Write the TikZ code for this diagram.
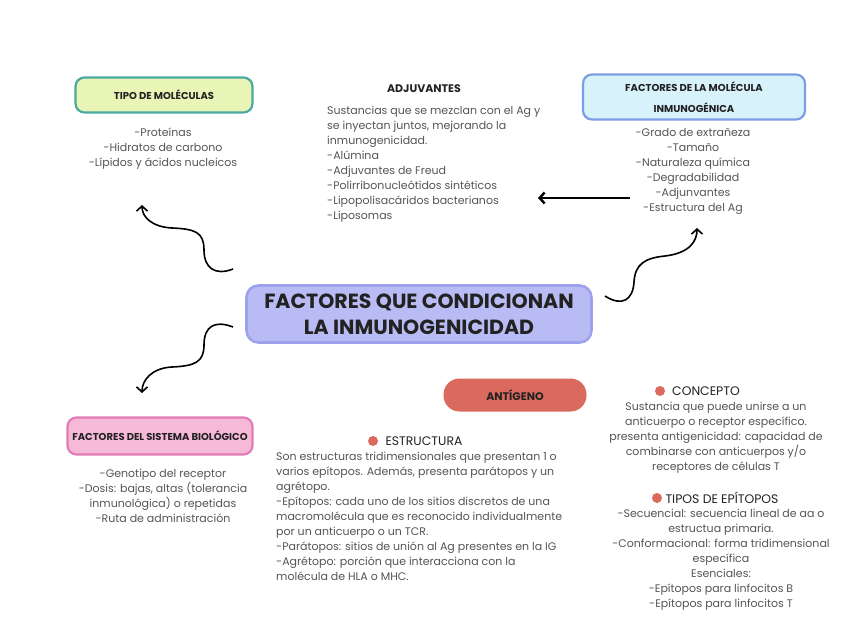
\documentclass[tikz,border=0pt]{standalone}
\usepackage{fontspec}
\setmainfont{Poppins}
\usetikzlibrary{arrows.meta}
\definecolor{gris}{HTML}{555555}
\definecolor{tinta}{HTML}{222222}
\definecolor{verde}{HTML}{E9F5B6}
\definecolor{verdeb}{HTML}{4BA9A2}
\definecolor{celeste}{HTML}{D8F2FC}
\definecolor{celesteb}{HTML}{7D9CE2}
\definecolor{lila}{HTML}{B9BCF4}
\definecolor{lilab}{HTML}{9EA2EC}
\definecolor{rosa}{HTML}{F7B9D8}
\definecolor{rosab}{HTML}{E27BB6}
\definecolor{salmon}{HTML}{DA6A5D}

\begin{document}
\begin{tikzpicture}[x=1pt,y=-1pt,
  caja/.style={draw, line width=2.2pt, rounded corners=9pt, align=center, text=tinta,
    font=\fontsize{10}{21}\selectfont\bfseries},
  lista/.style={text=gris, inner sep=0pt, font=\fontsize{11}{15}\selectfont},
  titulo/.style={text=tinta, inner sep=0pt, font=\fontsize{12.4}{14}\selectfont},
  punto/.style={circle, fill=salmon, inner sep=0pt, minimum size=10pt},
  flecha/.style={line width=1.6pt, -{Straight Barb[length=5pt,width=11pt]}}]
\useasboundingbox[fill=white] (0,0) rectangle (848,636);

% cajas
\node[caja, fill=verde, draw=verdeb, minimum width=177pt, minimum height=35pt] (T) at (164,95) {TIPO DE MOLÉCULAS};
\node[caja, fill=celeste, draw=celesteb, minimum width=222pt, minimum height=45pt] (F) at (694,97) {FACTORES DE LA MOLÉCULA\\INMUNOGÉNICA};
\node[caja, fill=lila, draw=lilab, line width=2.6pt, rounded corners=12pt, minimum width=345pt, minimum height=57pt,
  font=\fontsize{20.5}{26}\selectfont\bfseries] (C) at (419,314) {FACTORES QUE CONDICIONAN\\LA INMUNOGENICIDAD};
\node[caja, fill=rosa, draw=rosab, minimum width=185pt, minimum height=37pt] (S) at (160,436) {FACTORES DEL SISTEMA BIOLÓGICO};
\node[fill=salmon, rounded corners=16pt, minimum width=143pt, minimum height=33pt, text=tinta,
  font=\fontsize{11}{12}\selectfont\bfseries] (Ag) at (515,395) {ANTÍGENO};

% textos
\node[lista, align=center, anchor=north] (t) at (163,128) {-Proteínas\\-Hidratos de carbono\\-Lípidos y ácidos nucleicos};
\node[titulo, font=\fontsize{11}{12}\selectfont\bfseries] (ad) at (424,89) {ADJUVANTES};
\node[lista, align=left, anchor=north west] (a) at (327,106) {Sustancias que se mezclan con el Ag y\\se inyectan juntos, mejorando la\\inmunogenicidad.\\-Alúmina\\-Adjuvantes de Freud\\-Polirribonucleótidos sintéticos\\-Lipopolisacáridos bacterianos\\-Liposomas};
\node[lista, align=center, anchor=north] (f) at (693,128) {-Grado de extrañeza\\-Tamaño\\-Naturaleza química\\-Degradabilidad\\-Adjunvantes\\-Estructura del Ag};
\node[lista, align=center, anchor=north] (s) at (163,469) {-Genotipo del receptor\\-Dosis: bajas, altas (tolerancia\\inmunológica) o repetidas\\-Ruta de administración};

\node[titulo] (e) at (424,441) {ESTRUCTURA};
\node[punto] (e0) at (373,441) {};
\node[lista, align=left, anchor=north west] (eb) at (276,452) {Son estructuras tridimensionales que presentan 1 o\\varios epítopos. Además, presenta parátopos y un\\agrétopo.\\-Epítopos: cada uno de los sitios discretos de una\\macromolécula que es reconocido individualmente\\por un anticuerpo o un TCR.\\-Parátopos: sitios de unión al Ag presentes en la IG\\-Agrétopo: porción que interacciona con la\\molécula de HLA o MHC.};

\node[titulo] (k) at (706,391) {CONCEPTO};
\node[punto] (k0) at (660,391) {};
\node[lista, align=center, anchor=north] (kb) at (716,402) {Sustancia que puede unirse a un\\anticuerpo o receptor específico.\\presenta antigenicidad: capacidad de\\combinarse con anticuerpos y/o\\receptores de células T};

\node[titulo] (p) at (722,498) {TIPOS DE EPÍTOPOS};
\node[punto] (p0) at (657,498) {};
\node[lista, align=center, anchor=north] (pb) at (721,509) {-Secuencial: secuencia lineal de aa o\\estructua primaria.\\-Conformacional: forma tridimensional\\específica\\Esenciales:\\-Epítopos para linfocitos B\\-Epítopos para linfocitos T};

% flechas
\coordinate (c1) at (233,269);
\coordinate (c2) at (142,205);
\coordinate (c3) at (233,327);
\coordinate (c4) at (142,393);
\coordinate (c5) at (605,296);
\coordinate (c6) at (697,228);
\coordinate (c7) at (630,198);
\coordinate (c8) at (538,198);
\draw[flecha] (c1) .. controls (215,276) and (204,268) .. (204,250) .. controls (204,232) and (195,229) .. (172,228) .. controls (152,227) and (142,217) .. (c2);
\draw[flecha] (c3) .. controls (215,320) and (204,326) .. (204,345) .. controls (204,362) and (195,366) .. (172,367) .. controls (152,368) and (142,380) .. (c4);
\draw[flecha] (c5) .. controls (622,307) and (633,300) .. (634,282) .. controls (635,264) and (645,258) .. (665,256) .. controls (690,253) and (697,241) .. (c6);
\draw[flecha, line width=2.4pt] (c7) -- (c8);
\end{tikzpicture}
\end{document}
